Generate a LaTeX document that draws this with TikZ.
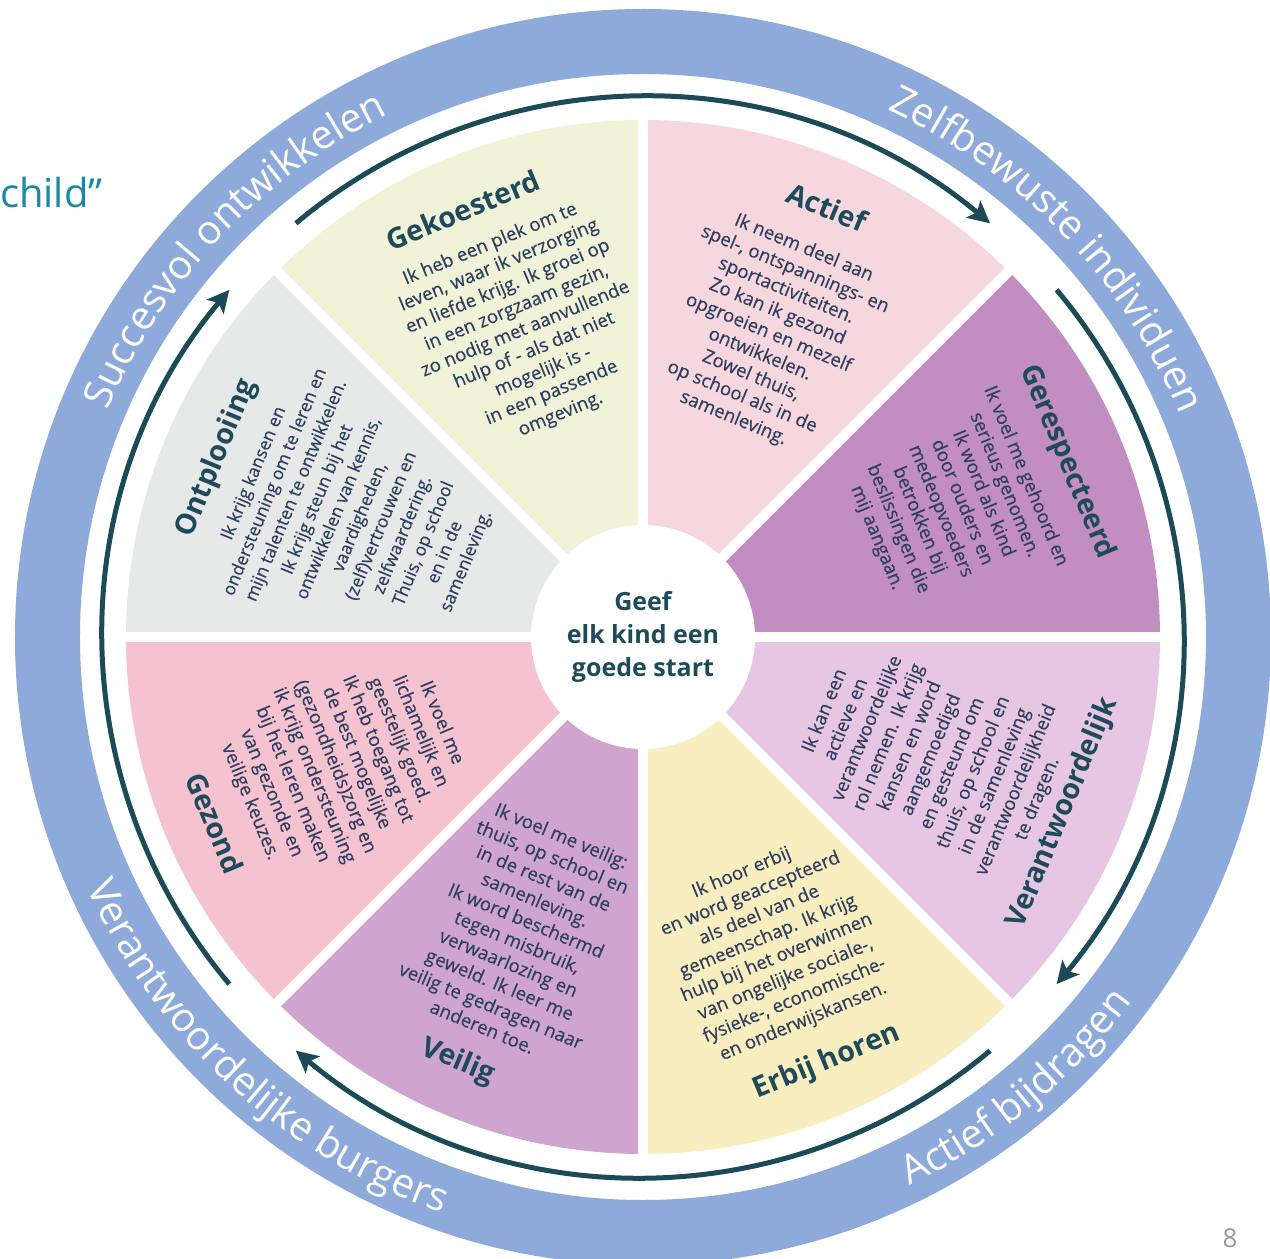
\documentclass[tikz,border=0pt]{standalone}
\usepackage{fontspec}
\setmainfont{Open Sans}
\newfontfamily\osans{Open Sans}
\newfontfamily\osbody[FakeBold=0.5]{Open Sans}
\usetikzlibrary{decorations.text,arrows.meta}
\definecolor{ringblue}{HTML}{8EAADB}
\definecolor{cGer}{HTML}{C28DC1}
\definecolor{cAct}{HTML}{F6D7DE}
\definecolor{cGek}{HTML}{F1F3D9}
\definecolor{cOnt}{HTML}{E6E9E8}
\definecolor{cGez}{HTML}{F5C2D0}
\definecolor{cVei}{HTML}{CFA5CF}
\definecolor{cErb}{HTML}{F8EEBF}
\definecolor{cVer}{HTML}{E6C6E3}
\definecolor{titlecol}{HTML}{1E4A5C}
\definecolor{bodycol}{HTML}{2F3F5F}
\definecolor{arrowcol}{HTML}{1B4B57}
\definecolor{childcol}{HTML}{1A88A6}
\definecolor{pagecol}{HTML}{9A9A9A}
\newcommand\ringf{\osans\fontsize{40}{44}\selectfont}
\begin{document}
\begin{tikzpicture}[x=1pt,y=1pt,
  titlef/.style={font=\osans\bfseries\fontsize{28.5}{30}\selectfont, text=titlecol, inner sep=0pt},
  bodyf/.style={font=\osbody\fontsize{18.6}{23}\selectfont, text=bodycol, align=center, inner sep=0pt},
  bodysmall/.style={bodyf, font=\osbody\fontsize{17.6}{23}\selectfont},
  arcarrow/.style={draw=arrowcol, line width=5pt, -{Stealth[length=22pt,width=22pt,inset=5pt]}},
  ringtext/.style={decorate, decoration={text along path, text align=center, text color=white, text={|\ringf|#1}}}]
\useasboundingbox (-643,-622) rectangle (627,637);
\fill[white] (-643,-622) rectangle (627,637);
% outer ring
\fill[ringblue, even odd rule] (0,0) circle[radius=628pt] (0,0) circle[radius=563pt];
% sectors
\foreach \a/\c in {0/cGer,45/cAct,90/cGek,135/cOnt,180/cGez,225/cVei,270/cErb,315/cVer}
  \fill[\c] (0,0) -- (\a:517pt) arc[start angle=\a, end angle=\a+45, radius=517pt] -- cycle;
\foreach \a in {0,45,...,315}
  \draw[white, line width=10pt] (0,0) -- (\a:530pt);
% hub
\node[circle, fill=white, minimum size=224pt, inner sep=0pt, align=center,
      font=\osans\bfseries\fontsize{25}{33}\selectfont, text=titlecol] (hub) at (0,0) {Geef\\elk kind een\\goede start};
% arrows
\draw[arcarrow] (130:540pt) arc[start angle=130, end angle=50, radius=540pt];
\draw[arcarrow] (40:540pt) arc[start angle=40, end angle=-40, radius=540pt];
\draw[arcarrow] (-50:540pt) arc[start angle=-50, end angle=-130, radius=540pt];
\draw[arcarrow] (220:540pt) arc[start angle=220, end angle=140, radius=540pt];
% ring texts
\path[ringtext={Succesvol ontwikkelen}] (181.5:581pt) arc[start angle=181.5, end angle=91.5, radius=581pt];
\path[ringtext={Zelfbewuste individuen}] (88.8:581pt) arc[start angle=88.8, end angle=-1.2, radius=581pt];
\path[ringtext={Actief bijdragen}] (-95.4:610pt) arc[start angle=-95.4, end angle=-5.4, radius=610pt];
\path[ringtext={Verantwoordelijke burgers}] (182.5:610pt) arc[start angle=182.5, end angle=272.5, radius=610pt];
% Gekoesterd
\node[titlef, rotate=22.5] (gekT) at (-180,427) {Gekoesterd};
\node[bodyf, rotate=22.5] (gekB) at (-117.5,307.5) {Ik heb een plek om te\\leven, waar ik verzorging\\en liefde krijg. Ik groei op\\in een zorgzaam gezin,\\zo nodig met aanvullende\\hulp of - als dat niet\\mogelijk is -\\in een passende\\omgeving.};
% Actief
\node[titlef, rotate=-22.5] (actT) at (184,430) {Actief};
\node[bodyf, rotate=-22.5] (actB) at (125.5,303.5) {Ik neem deel aan\\spel-, ontspannings- en\\sportactiviteiten.\\Zo kan ik gezond\\opgroeien en mezelf\\ontwikkelen.\\Zowel thuis,\\op school als in de\\samenleving.};
% Gerespecteerd
\node[titlef, rotate=-67.5] (gerT) at (424,175) {Gerespecteerd};
\node[bodyf, rotate=-67.5] (gerB) at (308,130) {Ik voel me gehoord en\\serieus genomen.\\Ik word als kind\\door ouders en\\medeopvoeders\\betrokken bij\\beslissingen die\\mij aangaan.};
% Verantwoordelijk
\node[titlef, rotate=67.5] (verT) at (420,-176) {Verantwoordelijk};
\node[bodyf, rotate=67.5] (verB) at (288.5,-118) {Ik kan een\\actieve en\\verantwoordelijke\\rol nemen. Ik krijg\\kansen en word\\aangemoedigd\\en gesteund om\\thuis, op school en\\in de samenleving\\verantwoordelijkheid\\te dragen.};
% Erbij horen
\node[titlef, rotate=22.5] (erbT) at (184,-425) {Erbij horen};
\node[bodyf, rotate=22.5] (erbB) at (129.5,-310.5) {Ik hoor erbij\\en word geaccepteerd\\als deel van de\\gemeenschap. Ik krijg\\hulp bij het overwinnen\\van ongelijke sociale-,\\fysieke-, economische-\\en onderwijskansen.};
% Veilig
\node[titlef, rotate=-22.5] (veiT) at (-185,-425) {Veilig};
\node[bodyf, rotate=-22.5] (veiB) at (-121,-294) {Ik voel me veilig:\\thuis, op school en\\in de rest van de\\samenleving.\\Ik word beschermd\\tegen misbruik,\\verwaarlozing en\\geweld. Ik leer me\\veilig te gedragen naar\\anderen toe.};
% Gezond
\node[titlef, rotate=-67.5] (gezT) at (-428,-186) {Gezond};
\node[bodyf, rotate=-67.5] (gezB) at (-297.5,-125.5) {Ik voel me\\lichamelijk en\\geestelijk goed.\\Ik heb toegang tot\\de best mogelijke\\(gezondheids)zorg en\\ik krijg ondersteuning\\bij het leren maken\\van gezonde en\\veilige keuzes.};
% Ontplooiing
\node[titlef, rotate=67.5] (ontT) at (-426,179) {Ontplooiing};
\node[bodysmall, rotate=67.5] (ontB) at (-282.5,119.5) {Ik krijg kansen en\\ondersteuning om te leren en\\mijn talenten te ontwikkelen.\\Ik krijg steun bij het\\ontwikkelen van kennis,\\vaardigheden,\\(zelf)vertrouwen en\\zelfwaardering.\\Thuis, op school\\en in de\\samenleving.};
% slide remnants
\node[font=\osans\fontsize{40}{44}\selectfont, text=childcol, anchor=base west, inner sep=0pt] (child) at (-643,429) {child”};
\node[font=\osans\fontsize{26}{28}\selectfont, text=pagecol, inner sep=0pt] (page) at (587,-601) {8};
\end{tikzpicture}
\end{document}
